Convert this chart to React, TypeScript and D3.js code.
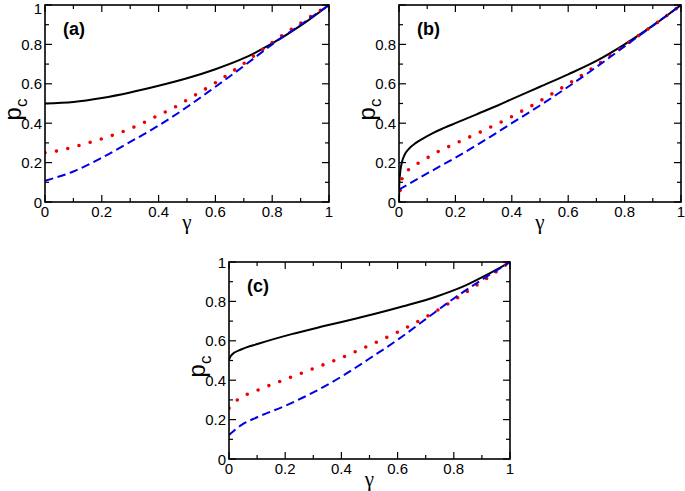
import React from "react";
import * as d3 from "d3";

// ---------- data ----------
// Panel (a)
const aBlackG = [0, 0.1, 0.2, 0.3, 0.4, 0.5, 0.6, 0.7, 0.8, 0.9, 1];
const aBlackP = [0.5, 0.508, 0.528, 0.556, 0.59, 0.628, 0.674, 0.73, 0.805, 0.895, 1];
const aRedG = [0, 0.05, 0.1, 0.15, 0.2, 0.25, 0.3, 0.35, 0.4, 0.45, 0.5, 0.55, 0.6, 0.65, 0.7, 0.75, 0.8, 0.85, 0.9, 0.95, 1];
const aRedP = [0.25, 0.261, 0.279, 0.299, 0.321, 0.345, 0.372, 0.405, 0.441, 0.476, 0.518, 0.561, 0.605, 0.653, 0.703, 0.757, 0.81, 0.86, 0.908, 0.955, 1];
const aBlueG = [0, 0.1, 0.2, 0.3, 0.4, 0.5, 0.6, 0.7, 0.8, 0.9, 1];
const aBlueP = [0.108, 0.155, 0.225, 0.305, 0.388, 0.482, 0.585, 0.69, 0.8, 0.9, 1];

// Panel (b)
const bBlackG = [0, 0.001, 0.005, 0.01, 0.02, 0.035, 0.06, 0.08, 0.12, 0.16, 0.2, 0.28, 0.35, 0.4, 0.5, 0.6, 0.7, 0.8, 0.9, 1];
const bBlackP = [0, 0.09, 0.16, 0.2, 0.24, 0.27, 0.3, 0.318, 0.35, 0.376, 0.4, 0.448, 0.49, 0.522, 0.585, 0.648, 0.716, 0.8, 0.895, 1];
const bRedG = [0, 0.012, 0.039, 0.075, 0.11, 0.148, 0.187, 0.225, 0.264, 0.302, 0.339, 0.377, 0.415, 0.451, 0.489, 0.521, 0.56, 0.631, 0.702, 0.77, 0.841, 0.92, 1];
const bRedP = [0, 0.124, 0.17, 0.203, 0.232, 0.263, 0.288, 0.314, 0.339, 0.364, 0.39, 0.416, 0.445, 0.474, 0.503, 0.531, 0.564, 0.628, 0.695, 0.764, 0.836, 0.915, 1];
const bBlueG = [0, 0.1, 0.2, 0.3, 0.4, 0.5, 0.6, 0.7, 0.8, 0.9, 1];
const bBlueP = [0.063, 0.145, 0.225, 0.31, 0.4, 0.49, 0.585, 0.685, 0.79, 0.895, 1];

// Panel (c)
const cBlackG = [0, 0.003, 0.01, 0.045, 0.104, 0.223, 0.342, 0.46, 0.52, 0.62, 0.739, 0.834, 0.917, 1];
const cBlackP = [0.503, 0.515, 0.529, 0.557, 0.585, 0.634, 0.676, 0.716, 0.737, 0.775, 0.825, 0.876, 0.935, 1];
const cRedG = [0, 0.03, 0.1, 0.2, 0.3, 0.4, 0.5, 0.6, 0.7, 0.8, 0.9, 1];
const cRedP = [0.258, 0.3, 0.348, 0.404, 0.459, 0.514, 0.577, 0.644, 0.72, 0.806, 0.9, 1];
const cBlueG = [0, 0.045, 0.1, 0.2, 0.3, 0.4, 0.5, 0.6, 0.7, 0.8, 0.9, 1];
const cBlueP = [0.122, 0.173, 0.212, 0.27, 0.338, 0.418, 0.51, 0.605, 0.71, 0.815, 0.91, 1];

const xTickLabels = ["0", "0.2", "0.4", "0.6", "0.8", "1"];
const yTickLabelsFull = ["0", "0.2", "0.4", "0.6", "0.8", "1"];
const yTickLabelsNoTop = ["0", "0.2", "0.4", "0.6", "0.8"];
const panelLabels = ["(a)", "(b)", "(c)"];

const FONT = "'Liberation Sans', Arial, Helvetica, sans-serif";

type Series = { g: number[]; p: number[]; kind: "solid" | "dot" | "dash" };

const zip = (g: number[], p: number[]) => g.map((v, i) => [v, p[i]] as [number, number]);

function Panel(props: {
  left: number; top: number; width: number; height: number;
  label: string; yLabels: string[]; series: Series[];
}) {
  const { left, top, width, height, label, yLabels, series } = props;
  const x = d3.scaleLinear().domain([0, 1]).range([left, left + width]);
  const y = d3.scaleLinear().domain([0, 1]).range([top + height, top]);
  const line = d3.line<[number, number]>().x((d) => x(d[0])).y((d) => y(d[1])).curve(d3.curveMonotoneX);
  const ticks = d3.range(0, 11).map((i) => i / 10);
  const bottom = top + height;
  const right = left + width;
  const tickLen = (i: number) => (i % 2 === 0 ? 7 : 4);
  const styles: Record<string, any> = {
    solid: { stroke: "#000", strokeWidth: 2, fill: "none" },
    dash: { stroke: "#0000e6", strokeWidth: 2, fill: "none", strokeDasharray: "8.5 4.5" },
    dot: { stroke: "#ee0000", strokeWidth: 3.6, fill: "none", strokeDasharray: "0 11.6", strokeLinecap: "round" },
  };
  const order = ["solid", "dot", "dash"];
  const cid = "clip" + label.replace(/[()]/g, "");
  return (
    <g>
      <defs>
        <clipPath id={cid}>
          <rect x={left} y={top - 2} width={width} height={height + 2} />
        </clipPath>
      </defs>
      <g clipPath={`url(#${cid})`}>
        {[...series]
          .sort((a, b) => order.indexOf(a.kind) - order.indexOf(b.kind))
          .map((s, i) => (
            <path key={i} d={line(zip(s.g, s.p)) || ""} {...styles[s.kind]} />
          ))}
      </g>
      {ticks.map((t, i) => (
        <g key={"t" + i} stroke="#000" strokeWidth={1.2}>
          <line x1={x(t)} x2={x(t)} y1={bottom} y2={bottom - tickLen(i)} />
          <line x1={x(t)} x2={x(t)} y1={top} y2={top + tickLen(i)} />
          <line x1={left} x2={left + tickLen(i)} y1={y(t)} y2={y(t)} />
          <line x1={right} x2={right - tickLen(i)} y1={y(t)} y2={y(t)} />
        </g>
      ))}
      <rect x={left} y={top} width={width} height={height} fill="none" stroke="#000" strokeWidth={1.6} />
      {xTickLabels.map((s, i) => (
        <text key={"xl" + i} x={x(i / 5)} y={bottom + 15} fontSize={15} fontFamily={FONT} textAnchor="middle">{s}</text>
      ))}
      {yLabels.map((s, i) => (
        <text key={"yl" + i} x={left - 3} y={Math.max(y(i / 5) + 5.5, 14)} fontSize={15} fontFamily={FONT} textAnchor="end">{s}</text>
      ))}
      <text x={x(0.5)} y={bottom + 27} fontSize={21} fontFamily="'Liberation Serif', 'Times New Roman', serif" textAnchor="middle">γ</text>
      <text transform={`translate(${left - 24},${top + height / 2 + 6}) rotate(-90)`} fontSize={24} fontFamily={FONT} textAnchor="middle">
        p<tspan fontSize={17} dy={6}>c</tspan>
      </text>
      <text x={left + 18} y={top + 30} fontSize={18} fontWeight="bold" fontFamily={FONT}>{label}</text>
    </g>
  );
}

export default function App() {
  return (
    <svg width={685} height={491} style={{ position: "absolute", left: 0, top: 0, background: "#fff" }}>
      <rect width={685} height={491} fill="#fff" />
      <Panel left={45} top={5} width={284} height={197} label={panelLabels[0]} yLabels={yTickLabelsFull}
        series={[{ g: aBlackG, p: aBlackP, kind: "solid" }, { g: aRedG, p: aRedP, kind: "dot" }, { g: aBlueG, p: aBlueP, kind: "dash" }]} />
      <Panel left={399} top={5} width={282} height={197} label={panelLabels[1]} yLabels={yTickLabelsNoTop}
        series={[{ g: bBlackG, p: bBlackP, kind: "solid" }, { g: bRedG, p: bRedP, kind: "dot" }, { g: bBlueG, p: bBlueP, kind: "dash" }]} />
      <Panel left={229} top={262} width={281} height={197} label={panelLabels[2]} yLabels={yTickLabelsFull}
        series={[{ g: cBlackG, p: cBlackP, kind: "solid" }, { g: cRedG, p: cRedP, kind: "dot" }, { g: cBlueG, p: cBlueP, kind: "dash" }]} />
    </svg>
  );
}
